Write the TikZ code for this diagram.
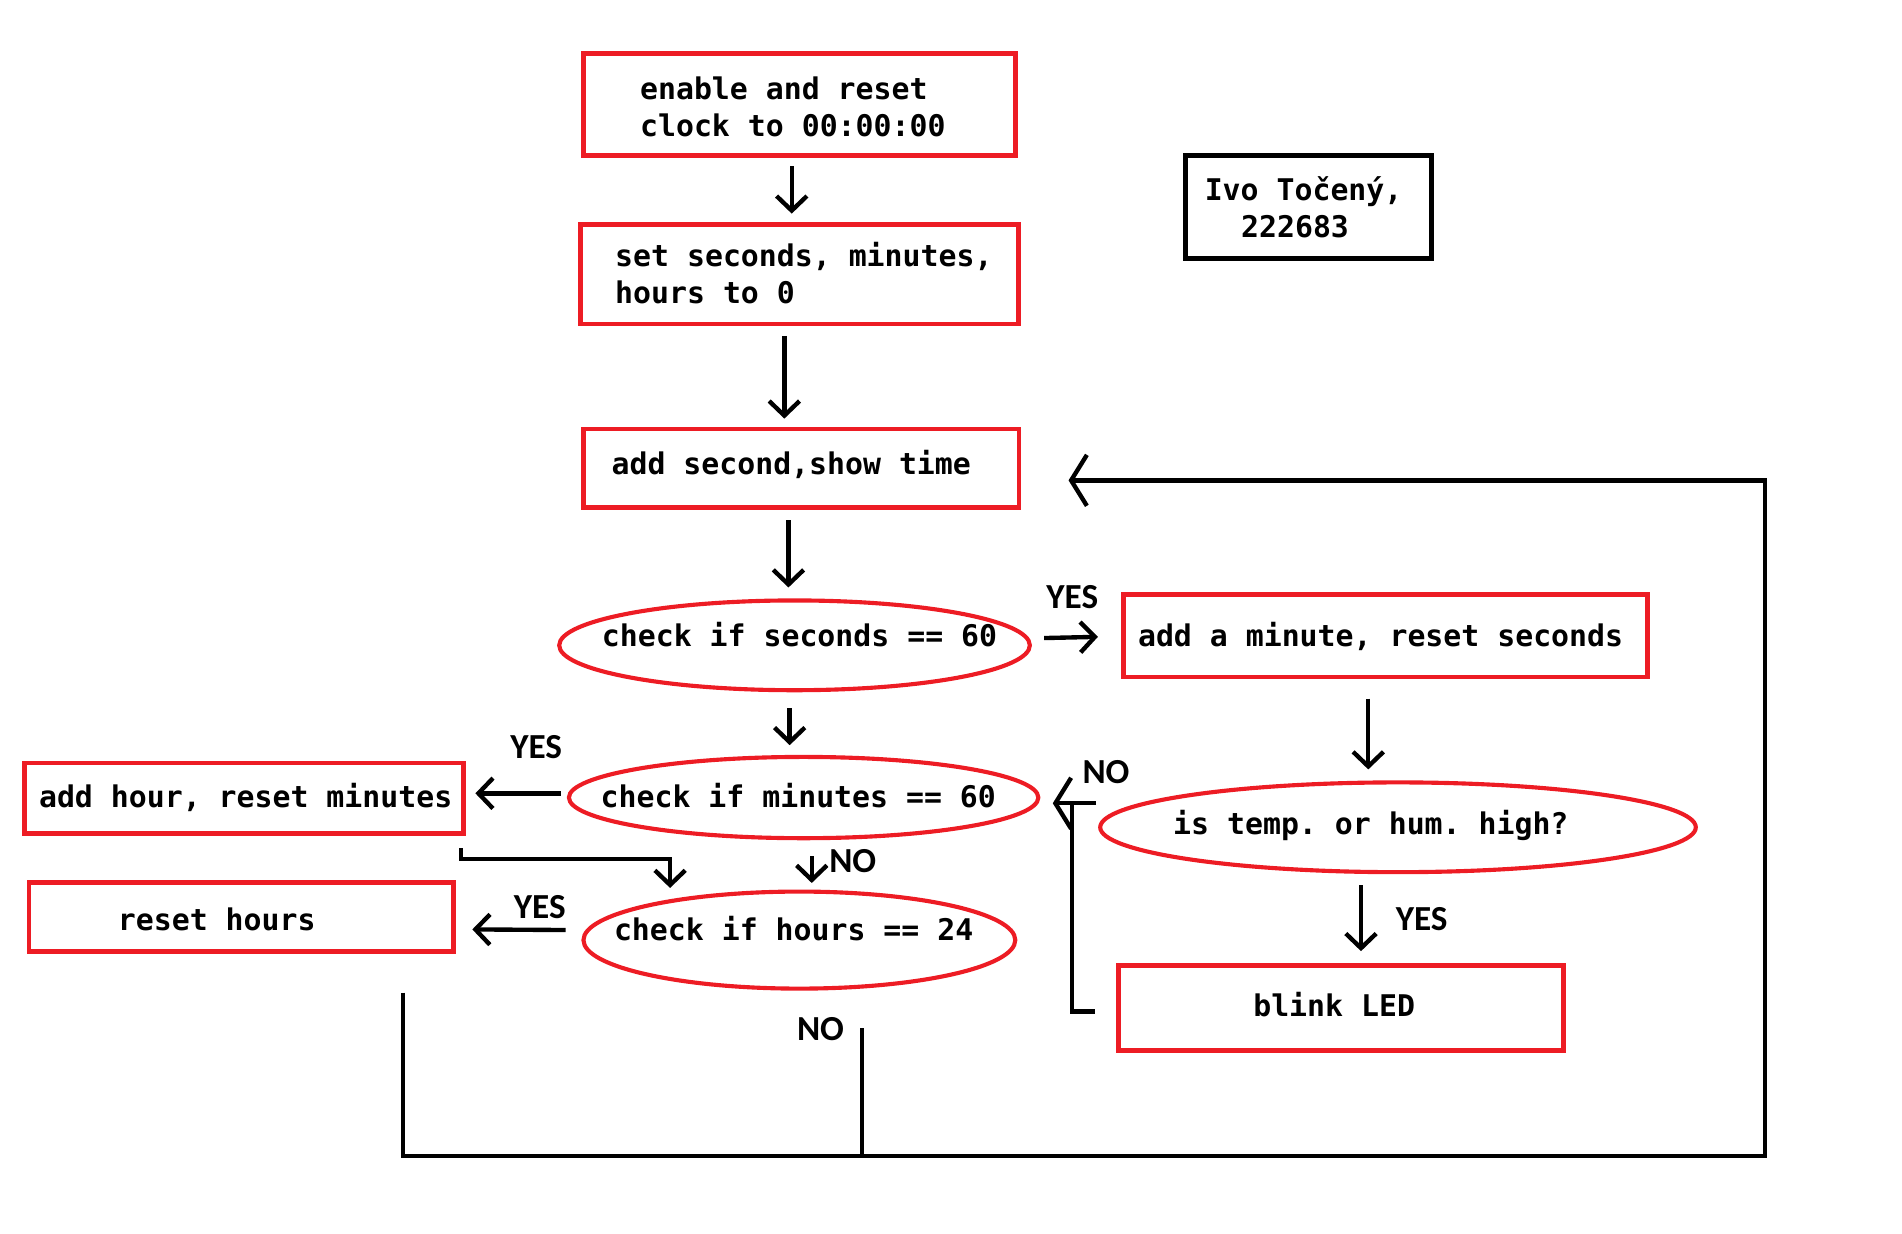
\documentclass[tikz,border=0pt]{standalone}
\usepackage{fontspec}
\setmonofont{DejaVu Sans Mono}
\newfontfamily\lblfont{Carlito}
\usetikzlibrary{arrows.meta,shapes.geometric,calc}
\definecolor{pred}{RGB}{237,28,36}
\begin{document}
\begin{tikzpicture}[x=1pt,y=-1pt,
  redbox/.style={draw=pred,line width=3.8pt,rectangle,inner sep=0pt},
  blackbox/.style={draw=black,line width=4.2pt,rectangle,inner sep=0pt},
  redell/.style={draw=pred,line width=3.4pt,ellipse,inner sep=0pt},
  txt/.style={anchor=base west,inner sep=0pt,font=\fontsize{24.6}{30}\selectfont\ttfamily\bfseries},
  lbl/.style={anchor=base,inner sep=0pt,font=\fontsize{29}{32}\selectfont\lblfont\bfseries},
  conn/.style={line width=3.6pt,black},
  arr/.style={conn,-{Straight Barb[length=12pt,width=25pt]}},
  arrw/.style={conn,-{Straight Barb[length=13pt,width=42pt]}},
]
\useasboundingbox (0,0) rectangle (1568,1017.3);

% shapes
\node[redbox,minimum width=356pt,minimum height=84pt] (b1) at (659,86) {};
\node[redbox,minimum width=361pt,minimum height=82pt] (b2) at (659,226) {};
\node[redbox,minimum width=359pt,minimum height=65pt] (b3) at (660.5,386) {};
\node[redell,minimum width=388pt,minimum height=74pt] (e1) at (655,532) {};
\node[redbox,minimum width=432pt,minimum height=68pt] (b4) at (1142,524) {};
\node[redell,minimum width=387pt,minimum height=67pt] (e2) at (662.5,657.5) {};
\node[redbox,minimum width=362pt,minimum height=58pt] (b5) at (201,658) {};
\node[redell,minimum width=356pt,minimum height=80pt] (e3) at (659,775) {};
\node[redbox,minimum width=350pt,minimum height=57pt] (b6) at (199,756) {};
\node[redell,minimum width=491pt,minimum height=74pt] (e4) at (1152.5,682) {};
\node[redbox,minimum width=367pt,minimum height=70pt] (b7) at (1105.5,831) {};
\node[blackbox,minimum width=203pt,minimum height=85pt] (b8) at (1078.5,170.5) {};

% texts
\node[txt] (t1a) at (527.5,82) {enable and reset};
\node[txt] (t1b) at (527.5,112.7) {clock to 00:00:00};
\node[txt] (t2a) at (507,220) {set seconds, minutes,};
\node[txt] (t2b) at (507,250.6) {hours to 0};
\node[txt] (t3) at (504,391) {add second,show time};
\node[txt] (t4) at (496,533) {check if seconds == 60};
\node[txt] (t5) at (938,533) {add a minute, reset seconds};
\node[txt] (t6) at (495,666) {check if minutes == 60};
\node[txt] (t7) at (32,666) {add hour, reset minutes};
\node[txt] (t8) at (506,775) {check if hours == 24};
\node[txt] (t9) at (97,767) {reset hours};
\node[txt] (t10) at (967,688) {is temp. or hum. high?};
\node[txt] (t11) at (1033,838) {blink LED};
\node[txt] (t12a) at (993,165) {Ivo Točený,};
\node[txt] (t12b) at (1023,196) {222683};

% labels
\node[lbl] (y1) at (884,502) {YES};
\node[lbl] (y2) at (442,625) {YES};
\node[lbl] (n1) at (703,719.5) {NO};
\node[lbl] (y3) at (445,757) {YES};
\node[lbl] (n2) at (676.4,858) {NO};
\node[lbl] (n3) at (911.8,645.5) {NO};
\node[lbl] (y4) at (1172,767) {YES};

% connectors
\draw[arr] ([shift={(-6.3,7)}]b1.south) -- ([shift={(-6.3,-7)}]b2.north);
\draw[arr] ([shift={(-12.4,8)}]b2.south) -- ([shift={(-13.9,-6.5)}]b3.north);
\draw[arr] ([shift={(-10.5,8.5)}]b3.south) -- ([shift={(-5,-9)}]e1.north);
\draw[arr] ([shift={(10,-6)}]e1.east) -- ([shift={(-19,1)}]b4.west);
\draw[arr] ([shift={(-4,13)}]e1.south) -- ([shift={(-11.5,-8)}]e2.north);
\draw[arr] ([shift={(-5,-3.5)}]e2.west) -- ([shift={(8,-4)}]b5.east);
\draw[arr] ([shift={(178.8,10.4)}]b5.south) |- ([shift={(-106.6,-25.4)}]e3.north)
  -- ([shift={(-106.6,-1.3)}]e3.north);
\draw[arr] ([shift={(6.7,13)}]e2.south) -- ([shift={(10.2,-5.4)}]e3.north);
\draw[arr] ([shift={(-13,-8.3)}]e3.west) -- ([shift={(13.5,10.2)}]b6.east);

\coordinate (bl) at (332,953);
\coordinate (bm) at (710.4,953);
\coordinate (br) at (1455,953);
\coordinate (tr) at (1455,396);
\draw[arrw] ([shift={(133,32)}]b6.south) -- (bl) -- (br) -- (tr) -- ([shift={(39,10)}]b3.east);
\draw[conn] ([shift={(51.4,30.8)}]e3.south) -- (bm);

\draw[arr] ([shift={(-14,16)}]b4.south) -- ([shift={(-24.5,-9)}]e4.north);
\draw[arr] ([shift={(-30.5,9)}]e4.south) -- ([shift={(16.5,-10)}]b7.north);

\coordinate (lc) at (883.5,834);
\coordinate (lt) at (883.5,662.2);
\draw[conn] ([shift={(-17.4,3)}]b7.west) -- (lc) -- (lt);
\draw[arrw] ([shift={(-1.6,-19.8)}]e4.west) -- ([shift={(10.2,4.7)}]e2.east);
\end{tikzpicture}
\end{document}
